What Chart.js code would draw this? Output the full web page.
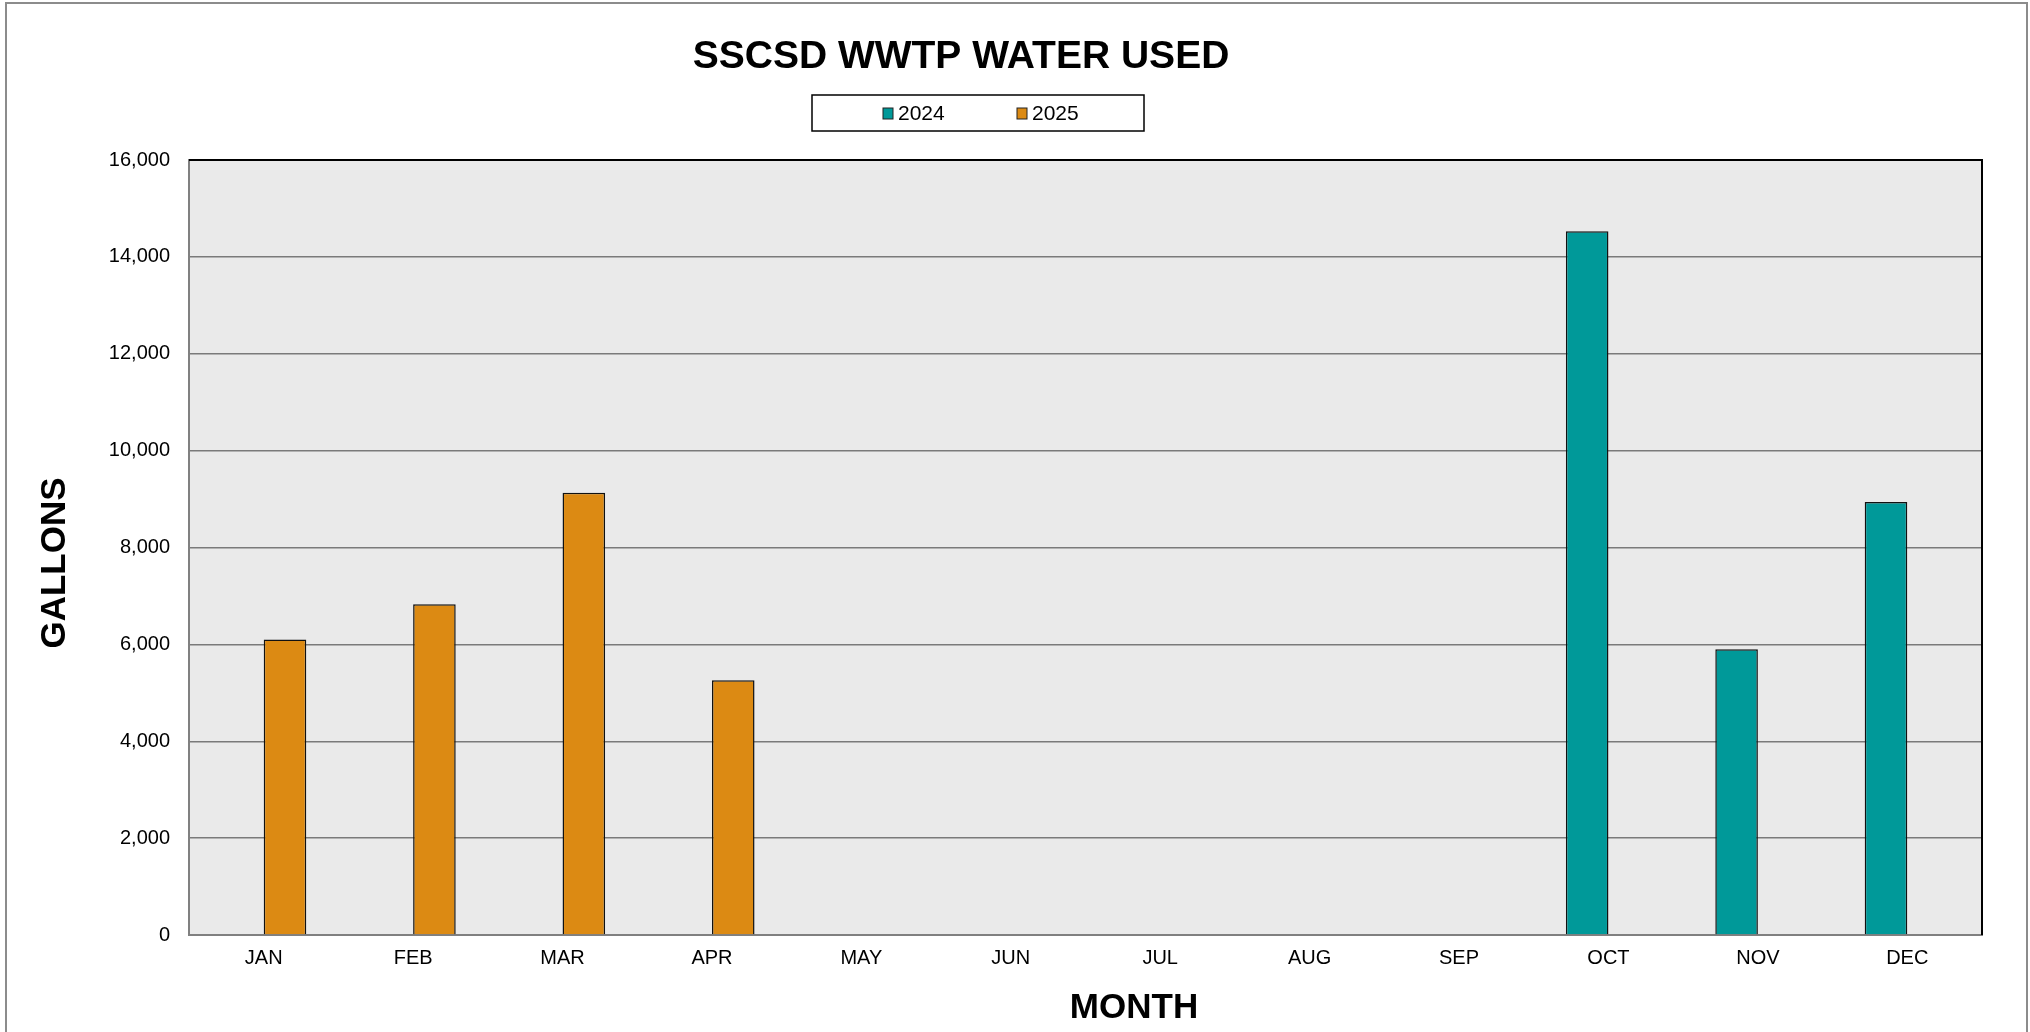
<!DOCTYPE html>
<html lang="en">
  <head>
    <title>SSCSD WWTP WATER USED</title>
    <meta charset="utf-8" />
    <script src="https://cdn.jsdelivr.net/npm/chart.js@4.4.9/dist/chart.umd.min.js"></script>
  </head>

  <body style="padding: 0; margin: 0; width: 2030px; height: 1032px; background: #fff">
    <canvas id="myChart" width="2030" height="1032" style="width: 2030px; height: 1032px"></canvas>

    <script>
      const months = ["JAN", "FEB", "MAR", "APR", "MAY", "JUN", "JUL", "AUG", "SEP", "OCT", "NOV", "DEC"];
      const seriesNames = ["2024", "2025"];
      const gallons2024 = [null, null, null, null, null, null, null, null, null, 14530, 5900, 8940];
      const gallons2025 = [6100, 6830, 9130, 5260, null, null, null, null, null, null, null, null];
      const seriesColors = ["#009999", "#dc8a13"];

      const FONT = "'Liberation Sans', Arial, sans-serif";

      // frame, title, boxed legend and axis titles drawn at fixed spots
      const decorPlugin = {
        id: "decor",
        beforeDraw(chart) {
          const { ctx, chartArea: a } = chart;
          ctx.save();
          ctx.fillStyle = "#eaeaea";
          ctx.fillRect(a.left, a.top, a.right - a.left, a.bottom - a.top);
          ctx.restore();
        },
        afterDraw(chart) {
          const { ctx, chartArea: a } = chart;
          ctx.save();

          // outer frame (bottom edge is cut off in the original)
          ctx.strokeStyle = "#8c8c8c";
          ctx.lineWidth = 2;
          ctx.beginPath();
          ctx.moveTo(6, 1032);
          ctx.lineTo(6, 3);
          ctx.lineTo(2027, 3);
          ctx.lineTo(2027, 1032);
          ctx.stroke();

          // top and right plot edges are black
          ctx.strokeStyle = "#000";
          ctx.lineWidth = 2;
          ctx.beginPath();
          ctx.moveTo(a.left, a.top);
          ctx.lineTo(a.right, a.top);
          ctx.lineTo(a.right, a.bottom);
          ctx.stroke();

          ctx.fillStyle = "#000";
          ctx.textAlign = "center";
          ctx.textBaseline = "alphabetic";
          ctx.font = `bold 39px ${FONT}`;
          ctx.fillText("SSCSD WWTP WATER USED", 961, 68);

          // legend
          ctx.lineWidth = 1.5;
          ctx.strokeStyle = "#000";
          ctx.strokeRect(812, 95, 332, 36);
          ctx.font = `21px ${FONT}`;
          ctx.textAlign = "left";
          const items = [
            { x: 883, name: seriesNames[0], color: seriesColors[0] },
            { x: 1017, name: seriesNames[1], color: seriesColors[1] },
          ];
          for (const it of items) {
            ctx.fillStyle = it.color;
            ctx.fillRect(it.x, 108, 10, 11);
            ctx.lineWidth = 1;
            ctx.strokeStyle = "#222";
            ctx.strokeRect(it.x, 108, 10, 11);
            ctx.fillStyle = "#000";
            ctx.fillText(it.name, it.x + 15, 120);
          }

          // axis titles
          ctx.font = `bold 35px ${FONT}`;
          ctx.textAlign = "center";
          ctx.fillText("MONTH", 1134, 1018);
          ctx.translate(65, 563);
          ctx.rotate(-Math.PI / 2);
          ctx.fillText("GALLONS", 0, 0);

          ctx.restore();
        },
      };

      new Chart(document.getElementById("myChart"), {
        type: "bar",
        data: {
          labels: months,
          datasets: [
            {
              label: seriesNames[0],
              data: gallons2024,
              backgroundColor: seriesColors[0],
              borderColor: "#111",
              borderWidth: 1.5,
            },
            {
              label: seriesNames[1],
              data: gallons2025,
              backgroundColor: seriesColors[1],
              borderColor: "#111",
              borderWidth: 1.5,
            },
          ],
        },
        plugins: [decorPlugin],
        options: {
          responsive: false,
          animation: false,
          devicePixelRatio: 1,
          layout: { padding: { left: 0, top: 160, right: 48, bottom: 0 } },
          datasets: { bar: { categoryPercentage: 0.57, barPercentage: 1.0 } },
          plugins: {
            legend: { display: false },
            title: { display: false },
            tooltip: { enabled: false },
          },
          scales: {
            x: {
              grid: { display: false, drawTicks: false },
              border: { color: "#808080", width: 2 },
              ticks: { color: "#000", font: { family: FONT, size: 20 }, padding: 11, maxRotation: 0 },
              afterFit(scale) {
                scale.height = 97;
              },
            },
            y: {
              min: 0,
              max: 16000,
              grid: { color: "#7a7a7a", lineWidth: 1.5, drawTicks: false },
              border: { color: "#808080", width: 2 },
              ticks: {
                stepSize: 2000,
                color: "#000",
                padding: 19,
                font: { family: FONT, size: 20 },
                callback: (v) => v.toLocaleString("en-US"),
              },
              afterFit(scale) {
                scale.width = 189;
              },
            },
          },
        },
      });
    </script>
  </body>
</html>
